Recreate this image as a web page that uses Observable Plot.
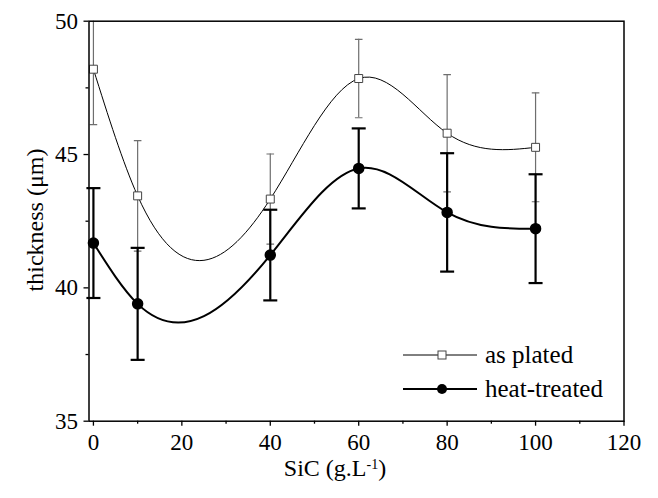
<!DOCTYPE html>
<html><head><meta charset="utf-8">
<script src="https://cdn.jsdelivr.net/npm/d3@7"></script>
<script src="https://cdn.jsdelivr.net/npm/@observablehq/plot@0.6"></script>
<style>
body{margin:0;background:#fff}
svg text{font-family:"Liberation Serif","Times New Roman",serif;}
</style>
</head><body><div id="chart"></div>
<script>
const sic = [0, 10, 40, 60, 80, 100];
const asPlated = [48.2, 43.45, 43.33, 47.85, 45.8, 45.27];
const asPlatedErr = [2.08, 2.07, 1.69, 1.47, 2.2, 2.04];
const heatTreated = [41.68, 39.4, 41.23, 44.48, 42.83, 42.22];
const heatTreatedErr = [2.06, 2.1, 1.7, 1.5, 2.22, 2.04];
const xTicks = [0, 20, 40, 60, 80, 100, 120];
const xMinor = [10, 30, 50, 70, 90, 110];
const yTicks = [35, 40, 45, 50];
const yMinor = [37.5, 42.5, 47.5];
const seriesNames = ["as plated", "heat-treated"];
const xLabel = "SiC (g.L";
const xLabelSup = "-1";
const yLabel = "thickness (\u03bcm)";

const rows = sic.map((x, i) => ({x, p: asPlated[i], pe: asPlatedErr[i], h: heatTreated[i], he: heatTreatedErr[i]}));
const capSymbol = {draw(ctx, size) { const w = Math.sqrt(size / Math.PI); ctx.moveTo(-w, 0); ctx.lineTo(w, 0); }};
const font = "Liberation Serif, Times New Roman, serif";
const grayBar = "#6e6e6e";

// x-based natural cubic spline curve (interpolates y as a function of x)
class NaturalX {
  constructor(context) { this._context = context; }
  areaStart() { this._line = 0; }
  areaEnd() { this._line = NaN; }
  lineStart() { this._x = []; this._y = []; }
  point(x, y) { this._x.push(+x); this._y.push(+y); }
  lineEnd() {
    const xs = this._x, ys = this._y, n = xs.length, c = this._context;
    if (!n) return;
    c.moveTo(xs[0], ys[0]);
    if (n === 2) { c.lineTo(xs[1], ys[1]); return; }
    const h = [], s = [];
    for (let i = 0; i < n - 1; i++) { h[i] = xs[i + 1] - xs[i]; s[i] = (ys[i + 1] - ys[i]) / h[i]; }
    const m = n - 2, A = [], B = [], C = [], D = [];
    for (let k = 0; k < m; k++) {
      const i = k + 1;
      A[k] = h[i - 1]; B[k] = 2 * (h[i - 1] + h[i]); C[k] = h[i]; D[k] = 6 * (s[i] - s[i - 1]);
    }
    for (let k = 1; k < m; k++) {
      const w = A[k] / B[k - 1];
      B[k] -= w * C[k - 1]; D[k] -= w * D[k - 1];
    }
    const M = new Array(n).fill(0);
    for (let k = m - 1; k >= 0; k--) {
      M[k + 1] = (D[k] - (k < m - 1 ? C[k] * M[k + 2] : 0)) / B[k];
    }
    for (let i = 0; i < n - 1; i++) {
      const m0 = s[i] - h[i] * (2 * M[i] + M[i + 1]) / 6;
      const m1 = s[i] + h[i] * (M[i] + 2 * M[i + 1]) / 6;
      c.bezierCurveTo(xs[i] + h[i] / 3, ys[i] + m0 * h[i] / 3, xs[i + 1] - h[i] / 3, ys[i + 1] - m1 * h[i] / 3, xs[i + 1], ys[i + 1]);
    }
  }
}
const naturalX = (context) => new NaturalX(context);

const plot = Plot.plot({
  width: 658, height: 498,
  marginLeft: 88.5, marginRight: 34.5, marginTop: 20.7, marginBottom: 77.3,
  style: {fontFamily: font, fontSize: "23px", background: "white", color: "black", overflow: "visible"},
  x: {domain: [-1, 120]},
  y: {domain: [35, 50]},
  marks: [
    Plot.axisX({ticks: xTicks, tickSize: 5, tickPadding: 7, label: null, fontSize: 23, strokeWidth: 1.3}),
    Plot.axisX({ticks: xMinor, tickSize: 3, tickFormat: () => "", label: null, strokeWidth: 1.3}),
    Plot.axisY({ticks: yTicks, tickSize: 5, tickPadding: 6, label: null, fontSize: 23, strokeWidth: 1.3}),
    Plot.axisY({ticks: yMinor, tickSize: 3, tickFormat: () => "", label: null, strokeWidth: 1.3}),
    // as plated error bars
    Plot.ruleX(rows, {x: "x", y1: d => d.p - d.pe, y2: d => d.p + d.pe, stroke: grayBar, strokeWidth: 1.2, clip: true}),
    Plot.dot(rows, {x: "x", y: d => d.p + d.pe, symbol: capSymbol, r: 3.8, stroke: grayBar, strokeWidth: 1.2, clip: true}),
    Plot.dot(rows, {x: "x", y: d => d.p - d.pe, symbol: capSymbol, r: 3.8, stroke: grayBar, strokeWidth: 1.2, clip: true}),
    // heat-treated error bars
    Plot.ruleX(rows, {x: "x", y1: d => d.h - d.he, y2: d => d.h + d.he, stroke: "black", strokeWidth: 2.2}),
    Plot.dot(rows, {x: "x", y: d => d.h + d.he, symbol: capSymbol, r: 7, stroke: "black", strokeWidth: 2.2}),
    Plot.dot(rows, {x: "x", y: d => d.h - d.he, symbol: capSymbol, r: 7, stroke: "black", strokeWidth: 2.2}),
    // curves
    Plot.line(rows, {x: "x", y: "p", curve: naturalX, stroke: "black", strokeWidth: 1}),
    Plot.line(rows, {x: "x", y: "h", curve: naturalX, stroke: "black", strokeWidth: 2}),
    // markers
    Plot.dot(rows, {x: "x", y: "p", symbol: "square", r: 4.5, fill: "white", stroke: "#444", strokeWidth: 1}),
    Plot.dot(rows, {x: "x", y: "h", symbol: "circle", r: 5, fill: "black", stroke: "black"}),
    Plot.frame({stroke: "black", strokeWidth: 1.5})
  ]
});
document.getElementById("chart").appendChild(plot);

const svg = d3.select(plot);
// axis titles
const xt = svg.append("text").attr("x", 335).attr("y", 476).attr("text-anchor", "middle")
  .style("font-family", font).style("font-size", "24px").attr("fill", "black");
xt.append("tspan").text(xLabel);
xt.append("tspan").attr("baseline-shift", "super").style("font-size", "14px").text(xLabelSup);
xt.append("tspan").text(")");
svg.append("text").attr("transform", "translate(43,220) rotate(-90)").attr("text-anchor", "middle")
  .style("font-family", font).style("font-size", "24px").attr("fill", "black").text(yLabel);

// legend
const leg = svg.append("g").attr("text-anchor", "start");
const legendY = [355, 389];
legendY.forEach((ly, i) => {
  leg.append("line").attr("x1", 403).attr("x2", 477).attr("y1", ly).attr("y2", ly)
    .attr("stroke", "black").attr("stroke-width", i === 0 ? 1 : 2);
  if (i === 0) {
    leg.append("rect").attr("x", 438).attr("y", ly - 4).attr("width", 8).attr("height", 8)
      .attr("fill", "white").attr("stroke", "#444");
  } else {
    leg.append("circle").attr("cx", 442).attr("cy", ly).attr("r", 5).attr("fill", "black");
  }
  leg.append("text").attr("x", 485).attr("y", ly + 8).attr("text-anchor", "start")
    .style("font-family", font).style("font-size", "25px").attr("fill", "black").text(seriesNames[i]);
});
</script>
</body></html>
